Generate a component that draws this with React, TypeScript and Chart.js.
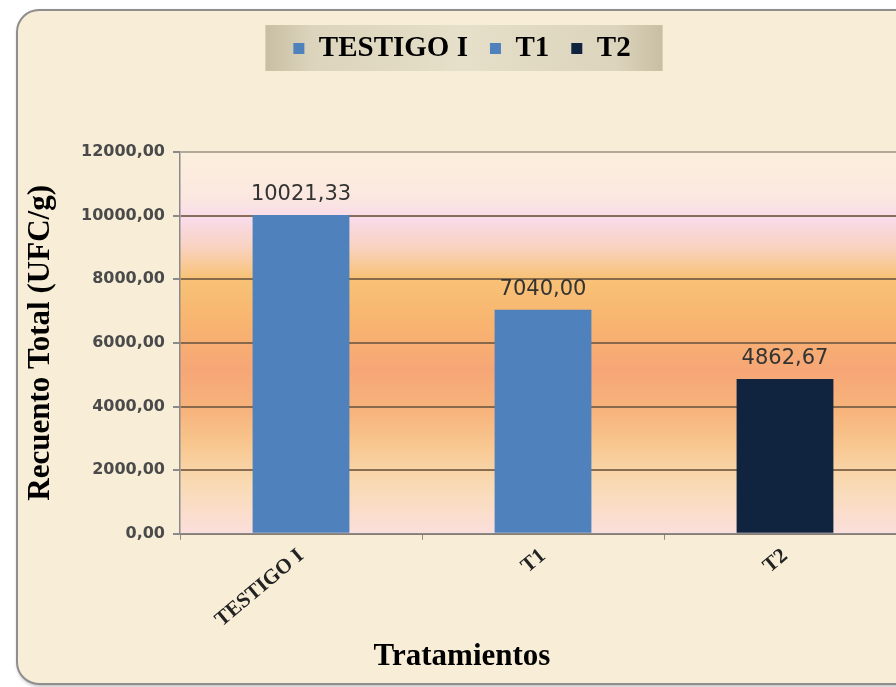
import React, { useEffect, useRef } from "react";
import { Chart, registerables } from "chart.js";

Chart.register(...registerables);

const categories = ["TESTIGO I", "T1", "T2"];
const values = [10021.33, 7040.0, 4862.67];
const barColors = ["#4f81bd", "#4f81bd", "#10243f"];
const yTicks = [0, 2000, 4000, 6000, 8000, 10000, 12000];
const yTitle = "Recuento Total (UFC/g)";
const xTitle = "Tratamientos";

const W = 940;
const H = 687;
const SERIF = '"Liberation Serif", "Times New Roman", serif';
const SANS = '"DejaVu Sans", Arial, sans-serif';

const fmt = (v: number) => Number(v).toFixed(2).replace(".", ",");

const backgroundPlugin = {
  id: "bgFrame",
  beforeDraw(chart: any) {
    const ctx = chart.ctx as CanvasRenderingContext2D;
    ctx.save();
    ctx.fillStyle = "#ffffff";
    ctx.fillRect(0, 0, W, H);
    ctx.shadowColor = "rgba(0,0,0,0.35)";
    ctx.shadowBlur = 4;
    ctx.shadowOffsetX = 1;
    ctx.shadowOffsetY = 2;
    ctx.beginPath();
    (ctx as any).roundRect(17, 10, W + 60, 674, 22);
    ctx.fillStyle = "#f8eed8";
    ctx.fill();
    ctx.shadowColor = "transparent";
    ctx.lineWidth = 2;
    ctx.strokeStyle = "#8e8e8e";
    ctx.stroke();

    const { left, top, right, bottom } = chart.chartArea;
    const g = ctx.createLinearGradient(0, top, 0, bottom);
    g.addColorStop(0, "#fcefdc");
    g.addColorStop(0.12, "#fbe7e0");
    g.addColorStop(0.175, "#f9dbea");
    g.addColorStop(0.25, "#f9d2c0");
    g.addColorStop(0.33, "#f8c276");
    g.addColorStop(0.45, "#f8b470");
    g.addColorStop(0.57, "#f6a676");
    g.addColorStop(0.68, "#f7b47c");
    g.addColorStop(0.77, "#f8c790");
    g.addColorStop(0.87, "#f9dab4");
    g.addColorStop(1, "#fbdfdc");
    ctx.fillStyle = g;
    ctx.fillRect(left, top, right - left, bottom - top);

    const lg = chart.legend;
    if (lg && lg.legendHitBoxes && lg.legendHitBoxes.length) {
      const hb = lg.legendHitBoxes;
      let minL = Infinity, maxR = -Infinity, minT = Infinity, maxB = -Infinity;
      hb.forEach((b: any) => {
        minL = Math.min(minL, b.left);
        maxR = Math.max(maxR, b.left + b.width);
        minT = Math.min(minT, b.top);
        maxB = Math.max(maxB, b.top + b.height);
      });
      const bx = minL - 28, by = minT - 9, bw = maxR - minL + 60, bh = maxB - minT + 17;
      const lgG = ctx.createLinearGradient(bx, 0, bx + bw, 0);
      lgG.addColorStop(0, "#c8bfa3");
      lgG.addColorStop(0.12, "#dcd4bc");
      lgG.addColorStop(0.5, "#e6dfc9");
      lgG.addColorStop(0.88, "#dcd4bc");
      lgG.addColorStop(1, "#c8bfa3");
      ctx.fillStyle = lgG;
      ctx.fillRect(bx, by, bw, bh);
    }
    ctx.restore();
  },
};

const legendSpacer = {
  id: "legendSpacer",
  beforeLayout(chart: any) {
    const lg = chart.legend;
    if (lg && !lg._spaced) {
      const orig = lg.fit;
      lg.fit = function () {
        orig.call(this);
        this.height = 140;
      };
      lg._spaced = true;
    }
  },
};

const valueLabels = {
  id: "valueLabels",
  afterDatasetsDraw(chart: any) {
    const ctx = chart.ctx as CanvasRenderingContext2D;
    const meta = chart.getDatasetMeta(0);
    const data = chart.data.datasets[0].data as number[];
    ctx.save();
    ctx.fillStyle = "#333333";
    ctx.font = `21px ${SANS}`;
    ctx.textAlign = "center";
    ctx.textBaseline = "alphabetic";
    meta.data.forEach((el: any, i: number) => {
      ctx.fillText(fmt(data[i]), el.x, el.y - 15);
    });
    ctx.restore();
  },
};

export default function App() {
  const ref = useRef<HTMLCanvasElement>(null);

  useEffect(() => {
    const canvas = ref.current;
    if (!canvas) return;
    const chart = new Chart(canvas, {
      type: "bar",
      data: {
        labels: categories,
        datasets: [
          {
            label: "Recuento",
            data: values,
            backgroundColor: barColors,
            borderWidth: 0,
            barPercentage: 0.4,
            categoryPercentage: 1,
          },
        ],
      },
      options: {
        responsive: false,
        devicePixelRatio: 1,
        animation: false,
        layout: { padding: { top: 12, left: 18, right: W - 906, bottom: 0 } },
        plugins: {
          tooltip: { enabled: false },
          legend: {
            display: true,
            position: "top",
            onClick: () => {},
            labels: {
              boxWidth: 11,
              boxHeight: 11,
              padding: 22,
              color: "#111111",
              font: { family: SERIF, size: 29, weight: "bold" },
              generateLabels: () =>
                categories.map((c, i) => ({
                  text: c,
                  fillStyle: barColors[i],
                  strokeStyle: barColors[i],
                  lineWidth: 0,
                  hidden: false,
                  index: i,
                  datasetIndex: 0,
                })),
            },
          },
          title: {
            display: true,
            position: "bottom",
            text: xTitle,
            color: "#000000",
            font: { family: SERIF, size: 31, weight: "bold" },
            padding: { top: 0, bottom: 11 },
          },
        },
        scales: {
          x: {
            offset: true,
            grid: {
              offset: true,
              drawOnChartArea: false,
              drawTicks: true,
              tickLength: 6,
              color: "#8a8a8a",
            },
            border: { color: "#8a8a8a", width: 1.5 },
            ticks: {
              minRotation: 40,
              maxRotation: 40,
              color: "#222222",
              font: { family: SERIF, size: 21, weight: "bold" },
              padding: 4,
            },
            afterFit: (s: any) => {
              s.height = 105;
            },
          },
          y: {
            min: 0,
            max: 12000,
            afterBuildTicks: (s: any) => {
              s.ticks = yTicks.map((v) => ({ value: v }));
            },
            ticks: {
              callback: (v: any) => fmt(v),
              color: "#4a4a4a",
              font: { family: SANS, size: 16, weight: "bold" },
              padding: 8,
            },
            grid: {
              color: (c: any) =>
                c.tick && c.tick.value === 12000 ? "#b3a999" : "rgba(120,95,70,0.88)",
              lineWidth: 2,
              tickLength: 7,
              tickColor: "#8a8a8a",
            },
            border: { color: "#8a8a8a", width: 1.5 },
            title: {
              display: true,
              text: yTitle,
              color: "#000000",
              font: { family: SERIF, size: 31, weight: "bold" },
              padding: { top: 4, bottom: 0 },
            },
            afterFit: (s: any) => {
              s.width = 162;
            },
          },
        },
      },
      plugins: [backgroundPlugin, legendSpacer, valueLabels],
    } as any);
    return () => chart.destroy();
  }, []);

  return (
    <div
      style={{
        position: "fixed",
        left: 0,
        top: 0,
        width: 896,
        height: 687,
        overflow: "hidden",
        background: "#ffffff",
      }}
    >
      <canvas ref={ref} width={W} height={H} style={{ width: W, height: H, display: "block" }} />
    </div>
  );
}
